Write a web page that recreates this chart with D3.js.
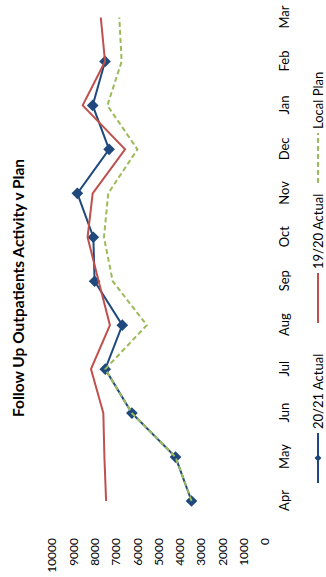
<!DOCTYPE html>
<html>
<head>
<meta charset="utf-8">
<script src="https://cdn.jsdelivr.net/npm/d3@7"></script>
<style>
  body { margin: 0; background: #fff; }
  text { font-family: Lato, "Liberation Sans", sans-serif; fill: #000; }
</style>
</head>
<body>
<svg id="canvas" width="326" height="577"></svg>
<script>
let months = ['Apr', 'May', 'Jun', 'Jul', 'Aug', 'Sep', 'Oct', 'Nov', 'Dec', 'Jan', 'Feb', 'Mar']
let actual2021 = [3450, 4200, 6250, 7500, 6700, 8000, 8060, 8810, 7320, 8090, 7510, null]
let actual1920 = [7460, 7540, 7590, 8170, 7280, 7810, 8330, 8090, 6570, 8560, 7510, 7710]
let localPlan = [3450, 4200, 6250, 7500, 5550, 7150, 7560, 7360, 5990, 7400, 6730, 6840]
let valueTicks = [0, 1000, 2000, 3000, 4000, 5000, 6000, 7000, 8000, 9000, 10000]

let legendItems = [
    { name: '20/21 Actual', color: '#1f497d', dash: null, marker: true },
    { name: '19/20 Actual', color: '#c0504d', dash: null, marker: false },
    { name: 'Local Plan', color: '#9bbb59', dash: '5,3', marker: false }
]

let canvas = d3.select('#canvas')

// the chart is drawn landscape (577 x 326) and turned a quarter turn to the left
let chart = canvas.append('g')
    .attr('transform', 'translate(0,577) rotate(-90)')

let x = d3.scalePoint().domain(months).range([76, 559.5])
let y = d3.scaleLinear().domain([0, 10000]).range([265, 52])

// title
chart.append('text')
    .attr('x', 289)
    .attr('y', 24)
    .attr('text-anchor', 'middle')
    .style('font-size', '15.5px')
    .style('font-weight', 'bold')
    .text('Follow Up Outpatients Activity v Plan')

// value axis
let yAxis = chart.append('g')
    .attr('transform', 'translate(39,0)')
    .call(d3.axisLeft(y).tickValues(valueTicks).tickFormat(d3.format('d')).tickSize(0).tickPadding(0))
yAxis.select('.domain').remove()
yAxis.selectAll('text').style('font-size', '12px').style('font-family', 'Lato, sans-serif').attr('fill', '#000')

// month axis
let xAxis = chart.append('g')
    .attr('transform', 'translate(0,280)')
    .call(d3.axisBottom(x).tickSize(0).tickPadding(0))
xAxis.select('.domain').remove()
xAxis.selectAll('text').style('font-size', '13px').style('font-family', 'Lato, sans-serif').attr('fill', '#000')

let makeLine = (values) => {
    return d3.line()
        .defined((d) => d != null)
        .x((d, i) => x(months[i]))
        .y((d) => y(d))(values)
}

chart.append('path')
    .attr('d', makeLine(actual2021))
    .attr('fill', 'none')
    .attr('stroke', '#1f497d')
    .attr('stroke-width', 2)

chart.append('g')
    .selectAll('path')
    .data(actual2021.map((v, i) => ({ v: v, m: months[i] })).filter((d) => d.v != null))
    .enter()
    .append('path')
    .attr('d', d3.symbol().type(d3.symbolSquare).size(68))
    .attr('transform', (d) => 'translate(' + x(d.m) + ',' + y(d.v) + ') rotate(45)')
    .attr('fill', '#1f497d')

chart.append('path')
    .attr('d', makeLine(actual1920))
    .attr('fill', 'none')
    .attr('stroke', '#c0504d')
    .attr('stroke-width', 2)

chart.append('path')
    .attr('d', makeLine(localPlan))
    .attr('fill', 'none')
    .attr('stroke', '#9bbb59')
    .attr('stroke-width', 2)
    .attr('stroke-dasharray', '5,3')

// legend
let legendX = [94, 254, 394]
let legend = chart.append('g').attr('transform', 'translate(0,318)')
legendItems.forEach((item, i) => {
    let g = legend.append('g').attr('transform', 'translate(' + legendX[i] + ',0)')
    g.append('line')
        .attr('x1', 0).attr('x2', 50)
        .attr('y1', 0).attr('y2', 0)
        .attr('stroke', item.color)
        .attr('stroke-width', 2)
        .attr('stroke-dasharray', item.dash)
    if (item.marker) {
        g.append('path')
            .attr('d', d3.symbol().type(d3.symbolSquare).size(24))
            .attr('transform', 'translate(25,0) rotate(45)')
            .attr('fill', item.color)
    }
    g.append('text')
        .attr('x', 54)
        .attr('y', 4.5)
        .style('font-size', '13px')
        .text(item.name)
})
</script>
</body>
</html>
